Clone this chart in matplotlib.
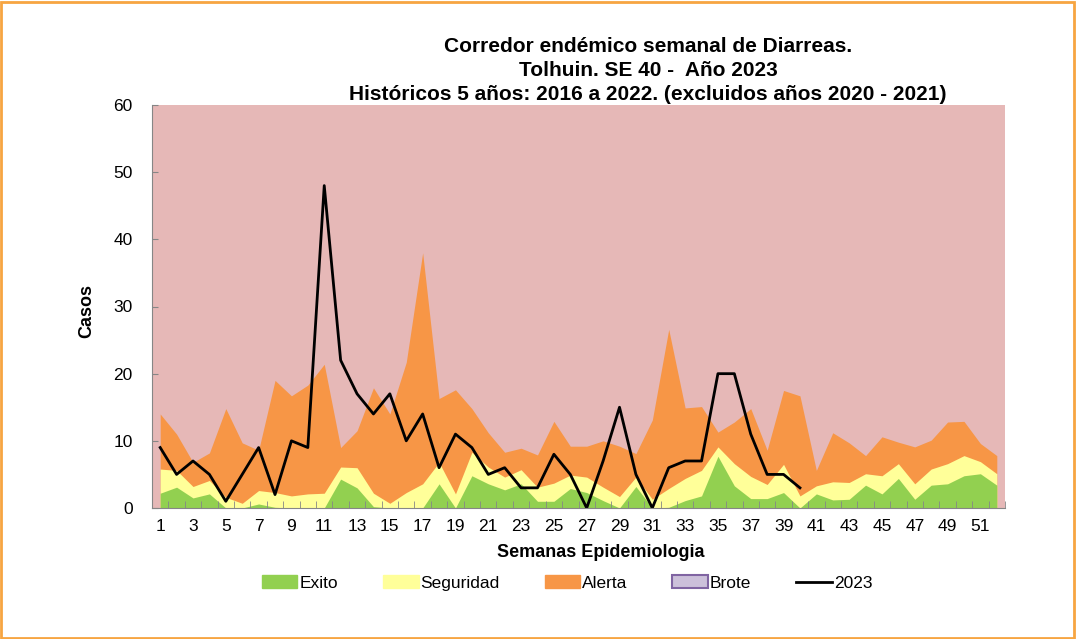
import matplotlib
matplotlib.use("Agg")
import matplotlib.pyplot as plt
from matplotlib.patches import Patch, Rectangle
from matplotlib.lines import Line2D
import numpy as np

plt.rcParams['font.family'] = ['Liberation Sans', 'DejaVu Sans']

weeks = list(range(1, 53))

alerta = [14, 11, 6.8, 8.2, 14.8, 9.7, 8.6, 19, 16.7, 18.3, 21.4, 9, 11.5, 17.9,
          14, 21.7, 38, 16.3, 17.6, 14.8, 11.2, 8.3, 8.9, 7.9, 12.9, 9.2, 9.2, 10,
          9.2, 8.1, 13.1, 26.6, 14.9, 15.1, 11.3, 12.8, 14.8, 8.6, 17.5, 16.7, 5.6,
          11.2, 9.7, 7.8, 10.6, 9.8, 9.1, 10.1, 12.8, 12.9, 9.6, 7.8]

seguridad = [5.8, 5.6, 3.2, 4.1, 1.6, 0.7, 2.6, 2.3, 1.8, 2.1, 2.2, 6.1, 6.0, 2.2,
             0.7, 2.3, 3.6, 6.8, 2.1, 8.3, 6.1, 4.6, 5.7, 3.1, 3.7, 4.9, 4.6, 3.1,
             1.7, 4.6, 1.3, 2.9, 4.4, 5.6, 9.1, 6.6, 4.7, 3.5, 6.5, 1.8, 3.3, 3.9,
             3.8, 5.1, 4.8, 6.6, 3.6, 5.8, 6.6, 7.8, 6.9, 5.1]

exito = [2.2, 3.1, 1.5, 2.1, 0, 0, 0.6, 0.1, 0, 0, 0, 4.3, 3.0, 0.2, 0, 0, 0, 3.6,
         0, 4.8, 3.6, 2.7, 3.6, 1.0, 1.0, 2.9, 2.3, 1.1, 0, 3.2, 0, 0.1, 1.1, 1.8,
         7.7, 3.3, 1.4, 1.4, 2.3, 0, 2.1, 1.2, 1.3, 3.4, 2.1, 4.4, 1.3, 3.4, 3.6,
         4.8, 5.1, 3.4]

weeks_2023 = list(range(1, 41))
casos_2023 = [9, 5, 7, 5, 1, 5, 9, 2, 10, 9, 48, 22, 17, 14, 17, 10, 14, 6, 11, 9,
              5, 6, 3, 3, 8, 5, 0, 7, 15, 5, 0, 6, 7, 7, 20, 20, 11, 5, 5, 3]

c_brote = '#E6B8B7'
c_alerta = '#F79646'
c_seg = '#FFFF99'
c_exito = '#92D050'
c_axis = '#868686'

fig = plt.figure(figsize=(10.76, 6.39), dpi=100)
ax = fig.add_axes([152 / 1076, 1 - 508 / 639, (1005 - 152) / 1076, (508 - 105) / 639])
ax.set_facecolor(c_brote)

ax.fill_between(weeks, 0, alerta, color=c_alerta, lw=0)
ax.fill_between(weeks, 0, seguridad, color=c_seg, lw=0)
ax.fill_between(weeks, 0, exito, color=c_exito, lw=0)
ax.plot(weeks_2023, casos_2023, color='black', lw=2)

ax.set_xlim(0.5, 52.5)
ax.set_ylim(0, 60)
ax.set_yticks(range(0, 61, 10))
ax.set_xticks(range(1, 53, 2))
ax.set_xticks(np.arange(0.5, 53, 1), minor=True)
ax.tick_params(axis='x', which='major', length=0, labelsize=12.5, pad=8)
ax.tick_params(axis='x', which='minor', length=5, color=c_axis, direction='in')
ax.tick_params(axis='y', length=4, color=c_axis, direction='in', labelsize=12.5, pad=14)

for s in ['top', 'right']:
    ax.spines[s].set_visible(False)
for s in ['left', 'bottom']:
    ax.spines[s].set_color(c_axis)

ax.set_ylabel('Casos', fontsize=13, fontweight='bold')
ax.yaxis.set_label_coords(-0.067, 0.49)
ax.set_xlabel('Semanas Epidemiologia', fontsize=13, fontweight='bold')
ax.xaxis.set_label_coords(0.526, -0.09)

fig.text(648 / 1076, 1 - 46 / 639, 'Corredor endémico semanal de Diarreas.',
         ha='center', va='center', fontsize=15, fontweight='bold')
fig.text(648 / 1076, 1 - 70 / 639, 'Tolhuin. SE 40 -  Año 2023',
         ha='center', va='center', fontsize=15, fontweight='bold')
fig.text(648 / 1076, 1 - 94 / 639,
         'Históricos 5 años: 2016 a 2022. (excluidos años 2020 - 2021)',
         ha='center', va='center', fontsize=15, fontweight='bold')

handles = [
    Patch(facecolor=c_exito, edgecolor=c_exito, label='Exito'),
    Patch(facecolor=c_seg, edgecolor=c_seg, label='Seguridad'),
    Patch(facecolor=c_alerta, edgecolor=c_alerta, label='Alerta'),
    Patch(facecolor='#CCC0DA', edgecolor='#8064A2', linewidth=1.5, label='Brote'),
    Line2D([0], [0], color='black', lw=2, label='2023'),
]
fig.legend(handles=handles, loc='center', bbox_to_anchor=(567 / 1076, 1 - 583 / 639),
           ncol=5, frameon=False, fontsize=12.5, handlelength=2.05,
           handleheight=0.7, handletextpad=0.1, columnspacing=2.6)

fig.patches.append(Rectangle((0.001, 0.002), 0.997, 0.995, transform=fig.transFigure,
                             fill=False, edgecolor='#F7A541', lw=2))

fig.savefig('out.png', dpi=100)
